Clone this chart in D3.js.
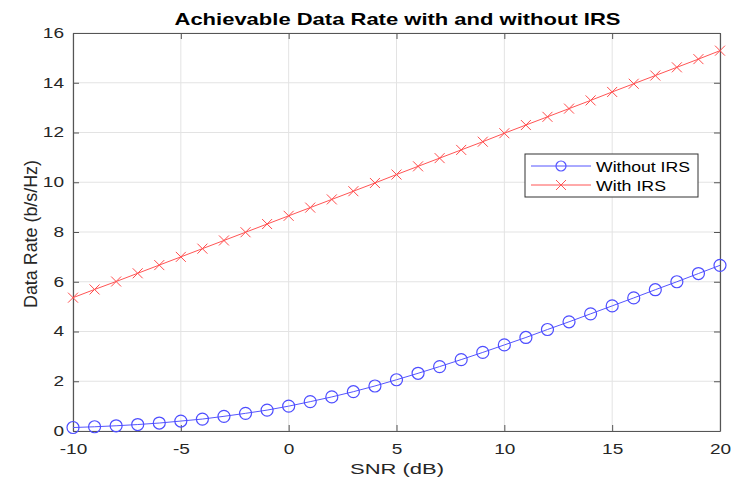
<!DOCTYPE html>
<html><head><meta charset="utf-8">
<script src="https://cdn.jsdelivr.net/npm/d3@7"></script>
<style>body{margin:0;background:#fff}svg{display:block}text{font-family:"Liberation Sans",Arial,Helvetica,sans-serif}</style>
</head><body><svg id="c" width="732" height="478"></svg>
<script>
const snr = [-10,-9,-8,-7,-6,-5,-4,-3,-2,-1,0,1,2,3,4,5,6,7,8,9,10,11,12,13,14,15,16,17,18,19,20];
const withoutIRS = [0.14,0.17,0.21,0.26,0.32,0.40,0.48,0.59,0.71,0.84,1.00,1.18,1.37,1.58,1.81,2.06,2.32,2.59,2.87,3.16,3.46,3.76,4.08,4.39,4.71,5.03,5.35,5.68,6.00,6.33,6.66];
const withIRS = [5.36,5.69,6.01,6.34,6.67,7.00,7.33,7.66,7.99,8.32,8.65,8.98,9.31,9.64,9.97,10.31,10.64,10.97,11.30,11.63,11.97,12.30,12.63,12.96,13.29,13.63,13.96,14.29,14.62,14.95,15.29];
const xTicks = [-10,-5,0,5,10,15,20];
const yTicks = [0,2,4,6,8,10,12,14,16];
const seriesNames = ["Without IRS","With IRS"];

const svg = d3.select("#c");
const L=73,R=720,T=33,B=431;
const x = d3.scaleLinear().domain([-10,20]).range([L,R]);
const y = d3.scaleLinear().domain([0,16]).range([B,T]);
const fmt = d => String(d);

function stretch(sel, k){
  sel.each(function(){
    const n = this.getComputedTextLength();
    d3.select(this).attr("textLength", n*k).attr("lengthAdjust","spacingAndGlyphs");
  });
}

// grid
svg.append("g").selectAll("line").data(xTicks).join("line")
  .attr("x1",d=>x(d)).attr("x2",d=>x(d)).attr("y1",T).attr("y2",B)
  .attr("stroke","#e3e3e3").attr("stroke-width",1);
svg.append("g").selectAll("line").data(yTicks).join("line")
  .attr("y1",d=>y(d)).attr("y2",d=>y(d)).attr("x1",L).attr("x2",R)
  .attr("stroke","#e3e3e3").attr("stroke-width",1);

// axes
const ax = svg.append("g").attr("transform",`translate(0,${B})`)
  .call(d3.axisBottom(x).tickValues(xTicks).tickSizeInner(-6).tickSizeOuter(0).tickPadding(13).tickFormat(fmt));
const ay = svg.append("g").attr("transform",`translate(${L},0)`)
  .call(d3.axisLeft(y).tickValues(yTicks).tickSizeInner(-6).tickSizeOuter(0).tickPadding(9).tickFormat(fmt));
const axT = svg.append("g").attr("transform",`translate(0,${T})`)
  .call(d3.axisTop(x).tickValues(xTicks).tickSizeInner(-6).tickSizeOuter(0).tickFormat(""));
const ayR = svg.append("g").attr("transform",`translate(${R},0)`)
  .call(d3.axisRight(y).tickValues(yTicks).tickSizeInner(-6).tickSizeOuter(0).tickFormat(""));
[ax,ay,axT,ayR].forEach(g=>{
  g.select(".domain").attr("stroke","#555").attr("stroke-width",1.2);
  g.selectAll(".tick line").attr("stroke","#555");
  g.selectAll(".tick text").attr("fill","#262626").attr("font-size",14).attr("font-family",null);
});
stretch(ax.selectAll(".tick text"),1.36);
stretch(ay.selectAll(".tick text"),1.36);

// lines
const line = d3.line().x((d,i)=>x(snr[i])).y(d=>y(d));
svg.append("path").datum(withoutIRS).attr("d",line).attr("fill","none").attr("stroke","#5555ff").attr("stroke-width",1);
svg.append("path").datum(withIRS).attr("d",line).attr("fill","none").attr("stroke","#ff5555").attr("stroke-width",1);
svg.append("g").selectAll("circle").data(withoutIRS).join("circle")
  .attr("cx",(d,i)=>x(snr[i])).attr("cy",d=>y(d)).attr("r",6)
  .attr("fill","none").attr("stroke","#4d4dff").attr("stroke-width",1.2);
const cs=5;
svg.append("g").selectAll("path").data(withIRS).join("path")
  .attr("d",(d,i)=>{const cx=x(snr[i]),cy=y(d);return `M${cx-cs},${cy-cs}L${cx+cs},${cy+cs}M${cx-cs},${cy+cs}L${cx+cs},${cy-cs}`;})
  .attr("stroke","#ff4d4d").attr("stroke-width",1);

// title & labels
svg.append("text").attr("x",(L+R)/2+1).attr("y",25).attr("text-anchor","middle")
  .attr("font-size",17).attr("font-weight","bold").attr("fill","#000")
  .attr("textLength",446).attr("lengthAdjust","spacingAndGlyphs")
  .text("Achievable Data Rate with and without IRS");
svg.append("text").attr("x",397).attr("y",474).attr("text-anchor","middle")
  .attr("font-size",14.5).attr("fill","#262626")
  .attr("textLength",94).attr("lengthAdjust","spacingAndGlyphs").text("SNR (dB)");
svg.append("text").attr("transform",`translate(37,234) scale(1.2,1) rotate(-90)`).attr("text-anchor","middle")
  .attr("font-size",16).attr("fill","#262626")
  .attr("textLength",148).attr("lengthAdjust","spacingAndGlyphs").text("Data Rate (b/s/Hz)");

// legend
const lg = svg.append("g");
lg.append("rect").attr("x",525).attr("y",154).attr("width",173).attr("height",43)
  .attr("fill","#fff").attr("stroke","#333").attr("stroke-width",1);
const rows=[{n:seriesNames[0],c:"#5555ff",m:"o",yy:166,w:94},{n:seriesNames[1],c:"#ff5555",m:"x",yy:185,w:70}];
rows.forEach(r=>{
  lg.append("line").attr("x1",531).attr("x2",591).attr("y1",r.yy).attr("y2",r.yy).attr("stroke",r.c);
  if(r.m==="o") lg.append("circle").attr("cx",561).attr("cy",r.yy).attr("r",5).attr("fill","none").attr("stroke",r.c).attr("stroke-width",1.2);
  else lg.append("path").attr("d",`M${556},${r.yy-5}L${566},${r.yy+5}M${556},${r.yy+5}L${566},${r.yy-5}`).attr("stroke",r.c);
  lg.append("text").attr("x",596).attr("y",r.yy+5.5).attr("font-size",15).attr("fill","#000")
    .attr("textLength",r.w).attr("lengthAdjust","spacingAndGlyphs").text(r.n);
});
</script></body></html>
